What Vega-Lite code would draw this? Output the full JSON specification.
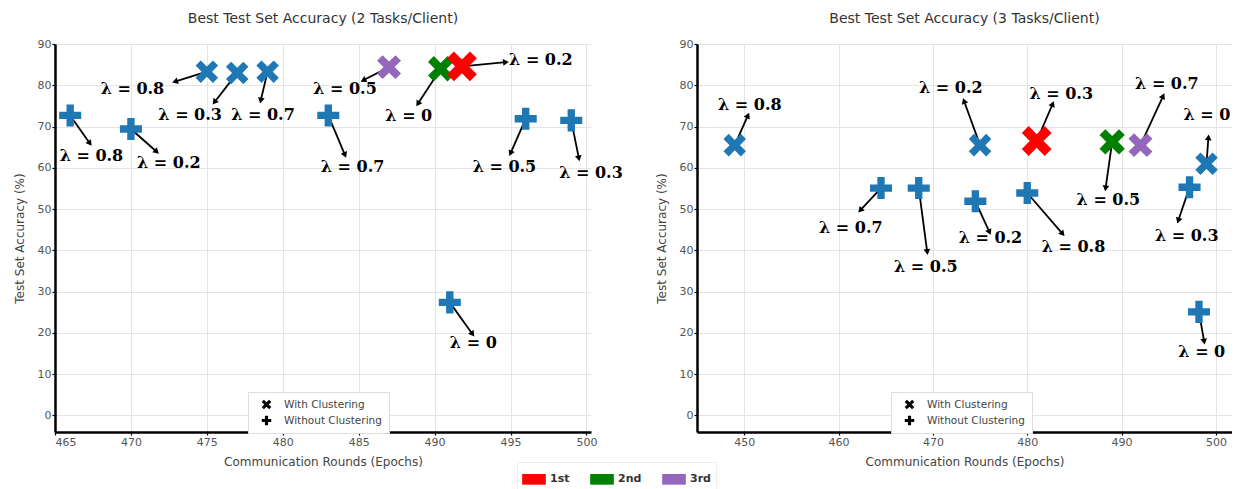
{
  "$schema": "https://vega.github.io/schema/vega-lite/v6.json",
  "background": "white",
  "padding": {"left": 13, "top": 12, "right": 0, "bottom": 0},
  "bounds": "flush",
  "spacing": 106,
  "datasets": {
    "pts": [
      {"p": 2, "x": 475, "y": 83.3, "c": "With Clustering", "r": "none", "t": "λ = 0.8", "tx": 470.1, "ty": 79.2, "ax": 472.9, "ay": 80.9},
      {"p": 2, "x": 477, "y": 83.0, "c": "With Clustering", "r": "none", "t": "λ = 0.3", "tx": 473.9, "ty": 72.7, "ax": 475.5, "ay": 75.9},
      {"p": 2, "x": 479, "y": 83.3, "c": "With Clustering", "r": "none", "t": "λ = 0.7", "tx": 478.7, "ty": 72.7, "ax": 478.55, "ay": 76.3},
      {"p": 2, "x": 487, "y": 84.4, "c": "With Clustering", "r": "3rd", "t": "λ = 0.5", "tx": 484.1, "ty": 79.0, "ax": 485.3, "ay": 81.2},
      {"p": 2, "x": 490.4, "y": 84.0, "c": "With Clustering", "r": "2nd", "t": "λ = 0", "tx": 488.3, "ty": 72.6, "ax": 488.9, "ay": 75.5},
      {"p": 2, "x": 491.8, "y": 84.6, "c": "With Clustering", "r": "1st", "t": "λ = 0.2", "tx": 497.0, "ty": 86.2, "ax": 494.7, "ay": 85.6},
      {"p": 2, "x": 466, "y": 72.7, "c": "Without Clustering", "r": "none", "t": "λ = 0.8", "tx": 467.4, "ty": 62.9, "ax": 467.3, "ay": 65.9},
      {"p": 2, "x": 470, "y": 69.4, "c": "Without Clustering", "r": "none", "t": "λ = 0.2", "tx": 472.5, "ty": 61.1, "ax": 471.7, "ay": 63.9},
      {"p": 2, "x": 483, "y": 72.7, "c": "Without Clustering", "r": "none", "t": "λ = 0.7", "tx": 484.6, "ty": 60.3, "ax": 484.1, "ay": 63.1},
      {"p": 2, "x": 496, "y": 71.9, "c": "Without Clustering", "r": "none", "t": "λ = 0.5", "tx": 494.6, "ty": 60.3, "ax": 495.0, "ay": 63.5},
      {"p": 2, "x": 499, "y": 71.5, "c": "Without Clustering", "r": "none", "t": "λ = 0.3", "tx": 500.3, "ty": 58.7, "ax": 499.5, "ay": 62.3},
      {"p": 2, "x": 491, "y": 27.4, "c": "Without Clustering", "r": "none", "t": "λ = 0", "tx": 492.55, "ty": 17.5, "ax": 492.5, "ay": 19.7},
      {"p": 3, "x": 449, "y": 65.5, "c": "With Clustering", "r": "none", "t": "λ = 0.8", "tx": 450.6, "ty": 75.2, "ax": 450.4, "ay": 72.7},
      {"p": 3, "x": 475, "y": 65.5, "c": "With Clustering", "r": "none", "t": "λ = 0.2", "tx": 471.9, "ty": 79.4, "ax": 473.3, "ay": 76.2},
      {"p": 3, "x": 481, "y": 66.5, "c": "With Clustering", "r": "1st", "t": "λ = 0.3", "tx": 483.6, "ty": 78.0, "ax": 482.7, "ay": 75.5},
      {"p": 3, "x": 489, "y": 66.3, "c": "With Clustering", "r": "2nd", "t": "λ = 0.5", "tx": 488.6, "ty": 52.1, "ax": 488.3, "ay": 55.0},
      {"p": 3, "x": 492, "y": 65.5, "c": "With Clustering", "r": "3rd", "t": "λ = 0.7", "tx": 494.8, "ty": 80.4, "ax": 494.4, "ay": 77.4},
      {"p": 3, "x": 499, "y": 61.0, "c": "With Clustering", "r": "none", "t": "λ = 0", "tx": 499.05, "ty": 72.9, "ax": 499.2, "ay": 67.4},
      {"p": 3, "x": 464.5, "y": 55.1, "c": "Without Clustering", "r": "none", "t": "λ = 0.7", "tx": 461.3, "ty": 45.4, "ax": 462.3, "ay": 49.7},
      {"p": 3, "x": 468.5, "y": 55.1, "c": "Without Clustering", "r": "none", "t": "λ = 0.5", "tx": 469.25, "ty": 36.0, "ax": 469.4, "ay": 39.6},
      {"p": 3, "x": 474.5, "y": 51.9, "c": "Without Clustering", "r": "none", "t": "λ = 0.2", "tx": 476.1, "ty": 42.9, "ax": 476.0, "ay": 44.4},
      {"p": 3, "x": 480, "y": 53.9, "c": "Without Clustering", "r": "none", "t": "λ = 0.8", "tx": 484.9, "ty": 40.8, "ax": 483.75, "ay": 44.0},
      {"p": 3, "x": 497.2, "y": 55.3, "c": "Without Clustering", "r": "none", "t": "λ = 0.3", "tx": 496.9, "ty": 43.6, "ax": 496.0, "ay": 47.2},
      {"p": 3, "x": 498.2, "y": 25.1, "c": "Without Clustering", "r": "none", "t": "λ = 0", "tx": 498.5, "ty": 15.4, "ax": 498.75, "ay": 17.9}
    ]
  },
  "config": {
    "view": {"stroke": null},
    "font": "DejaVu Sans",
    "axis": {
      "domainColor": "black", "domainWidth": 2.5, "tickColor": "black", "tickSize": 3, "tickWidth": 1.2,
      "gridColor": "#e4e4e4", "gridWidth": 1,
      "labelColor": "#555", "labelFontSize": 11, "labelFont": "DejaVu Sans", "labelPadding": 1,
      "titleFont": "DejaVu Sans", "titleFontSize": 12, "titleFontWeight": "normal", "titleColor": "#444"
    },
    "title": {"fontSize": 14, "fontWeight": "normal", "color": "#333", "font": "DejaVu Sans", "offset": 12},
    "legend": {"labelFont": "DejaVu Sans"}
  },
  "resolve": {
    "scale": {"x": "independent", "y": "independent", "color": "shared", "shape": "shared"},
    "legend": {"shape": "independent", "color": "shared"}
  },
  "hconcat": [
    {
      "width": 536, "height": 388,
      "title": {"text": "Best Test Set Accuracy (2 Tasks/Client)"},
      "data": {"name": "pts"},
      "transform": [
        {"filter": "datum.p == 2"},
        {"calculate": "atan2((datum.ax-datum.x)*15.2, (datum.ay-datum.y)*4.13)*180/PI", "as": "ang"}
      ],
      "encoding": {
        "x": {"field": "x", "type": "quantitative", "title": "Communication Rounds (Epochs)", "scale": {"domain": [465, 500.3], "nice": false, "zero": false}, "axis": {"values": [465, 470, 475, 480, 485, 490, 495, 500], "titlePadding": 9}},
        "y": {"field": "y", "type": "quantitative", "title": "Test Set Accuracy (%)", "scale": {"domain": [-4, 90], "nice": false, "zero": false}, "axis": {"values": [0, 10, 20, 30, 40, 50, 60, 70, 80, 90], "titlePadding": 11}}
      },
      "layer": [
        {"mark": {"type": "rule", "color": "black", "strokeWidth": 1.8}, "encoding": {"x2": {"field": "ax"}, "y2": {"field": "ay"}}},
        {"mark": {"type": "point", "shape": "triangle-up", "filled": true, "color": "black", "size": 45, "opacity": 1},
         "encoding": {
           "x": {"field": "ax", "type": "quantitative", "title": "Communication Rounds (Epochs)", "scale": {"domain": [465, 500.3], "nice": false, "zero": false}},
           "y": {"field": "ay", "type": "quantitative", "title": "Test Set Accuracy (%)", "scale": {"domain": [-4, 90], "nice": false, "zero": false}},
           "angle": {"field": "ang", "type": "quantitative", "scale": null}
         }},
        {"mark": {"type": "point", "filled": true, "opacity": 1, "strokeWidth": 0},
         "encoding": {
           "shape": {"field": "c", "type": "nominal", "scale": {"domain": ["With Clustering", "Without Clustering"], "range": ["M0.495,-0.919L0.919,-0.495L0.424,0L0.919,0.495L0.495,0.919L0,0.424L-0.495,0.919L-0.919,0.495L-0.424,0L-0.919,-0.495L-0.495,-0.919L0,-0.424Z", "M-0.3,-0.9H0.3V-0.3H0.9V0.3H0.3V0.9H-0.3V0.3H-0.9V-0.3H-0.3Z"]},
             "legend": {"orient": "none", "legendX": 193, "legendY": 348, "title": null, "symbolFillColor": "black", "symbolStrokeColor": "black", "symbolStrokeWidth": 0, "symbolSize": 110, "symbolOffset": 6, "labelOffset": 12, "labelFontSize": 10.5, "labelColor": "#444", "fillColor": "white", "strokeColor": "#dddddd", "padding": 7, "rowPadding": 5}},
           "color": {"field": "r", "type": "nominal", "scale": {"domain": ["1st", "2nd", "3rd", "none"], "range": ["#ff0000", "#008000", "#9467bd", "#1f77b4"]},
             "legend": {"orient": "none", "legendX": 462, "legendY": 418, "direction": "horizontal", "title": null, "values": ["1st", "2nd", "3rd"], "symbolType": "M-1,-0.45H1V0.45H-1Z", "symbolSize": 560, "symbolStrokeWidth": 0, "labelFontSize": 11, "labelFontWeight": "bold", "labelColor": "#333", "columnPadding": 20, "strokeColor": "#eeeeee", "padding": 5}},
           "size": {"condition": [{"test": "datum.r == '1st'", "value": 1050}, {"test": "datum.r == '2nd'", "value": 760}, {"test": "datum.r == '3rd'", "value": 680}], "value": 600}
         }},
        {"mark": {"type": "text", "font": "DejaVu Serif", "fontWeight": "bold", "fontSize": 16, "color": "black"},
         "encoding": {
           "x": {"field": "tx", "type": "quantitative", "title": "Communication Rounds (Epochs)", "scale": {"domain": [465, 500.3], "nice": false, "zero": false}},
           "y": {"field": "ty", "type": "quantitative", "title": "Test Set Accuracy (%)", "scale": {"domain": [-4, 90], "nice": false, "zero": false}},
           "text": {"field": "t"}
         }}
      ]
    },
    {
      "width": 535, "height": 388,
      "title": {"text": "Best Test Set Accuracy (3 Tasks/Client)"},
      "data": {"name": "pts"},
      "transform": [
        {"filter": "datum.p == 3"},
        {"calculate": "atan2((datum.ax-datum.x)*9.44, (datum.ay-datum.y)*4.13)*180/PI", "as": "ang"}
      ],
      "encoding": {
        "x": {"field": "x", "type": "quantitative", "title": "Communication Rounds (Epochs)", "scale": {"domain": [445, 501.7], "nice": false, "zero": false}, "axis": {"values": [450, 460, 470, 480, 490, 500], "titlePadding": 9}},
        "y": {"field": "y", "type": "quantitative", "title": "Test Set Accuracy (%)", "scale": {"domain": [-4, 90], "nice": false, "zero": false}, "axis": {"values": [0, 10, 20, 30, 40, 50, 60, 70, 80, 90], "titlePadding": 11}}
      },
      "layer": [
        {"mark": {"type": "rule", "color": "black", "strokeWidth": 1.8}, "encoding": {"x2": {"field": "ax"}, "y2": {"field": "ay"}}},
        {"mark": {"type": "point", "shape": "triangle-up", "filled": true, "color": "black", "size": 45, "opacity": 1},
         "encoding": {
           "x": {"field": "ax", "type": "quantitative", "title": "Communication Rounds (Epochs)", "scale": {"domain": [445, 501.7], "nice": false, "zero": false}},
           "y": {"field": "ay", "type": "quantitative", "title": "Test Set Accuracy (%)", "scale": {"domain": [-4, 90], "nice": false, "zero": false}},
           "angle": {"field": "ang", "type": "quantitative", "scale": null}
         }},
        {"mark": {"type": "point", "filled": true, "opacity": 1, "strokeWidth": 0},
         "encoding": {
           "shape": {"field": "c", "type": "nominal", "scale": {"domain": ["With Clustering", "Without Clustering"], "range": ["M0.495,-0.919L0.919,-0.495L0.424,0L0.919,0.495L0.495,0.919L0,0.424L-0.495,0.919L-0.919,0.495L-0.424,0L-0.919,-0.495L-0.495,-0.919L0,-0.424Z", "M-0.3,-0.9H0.3V-0.3H0.9V0.3H0.3V0.9H-0.3V0.3H-0.9V-0.3H-0.3Z"]},
             "legend": {"orient": "none", "legendX": 194, "legendY": 348, "title": null, "symbolFillColor": "black", "symbolStrokeColor": "black", "symbolStrokeWidth": 0, "symbolSize": 110, "symbolOffset": 6, "labelOffset": 12, "labelFontSize": 10.5, "labelColor": "#444", "fillColor": "white", "strokeColor": "#dddddd", "padding": 7, "rowPadding": 5}},
           "color": {"field": "r", "type": "nominal", "scale": {"domain": ["1st", "2nd", "3rd", "none"], "range": ["#ff0000", "#008000", "#9467bd", "#1f77b4"]},
             "legend": {"orient": "none", "legendX": 462, "legendY": 418, "direction": "horizontal", "title": null, "values": ["1st", "2nd", "3rd"], "symbolType": "M-1,-0.45H1V0.45H-1Z", "symbolSize": 560, "symbolStrokeWidth": 0, "labelFontSize": 11, "labelFontWeight": "bold", "labelColor": "#333", "columnPadding": 20, "strokeColor": "#eeeeee", "padding": 5}},
           "size": {"condition": [{"test": "datum.r == '1st'", "value": 1050}, {"test": "datum.r == '2nd'", "value": 760}, {"test": "datum.r == '3rd'", "value": 680}], "value": 600}
         }},
        {"mark": {"type": "text", "font": "DejaVu Serif", "fontWeight": "bold", "fontSize": 16, "color": "black"},
         "encoding": {
           "x": {"field": "tx", "type": "quantitative", "title": "Communication Rounds (Epochs)", "scale": {"domain": [445, 501.7], "nice": false, "zero": false}},
           "y": {"field": "ty", "type": "quantitative", "title": "Test Set Accuracy (%)", "scale": {"domain": [-4, 90], "nice": false, "zero": false}},
           "text": {"field": "t"}
         }}
      ]
    }
  ]
}
